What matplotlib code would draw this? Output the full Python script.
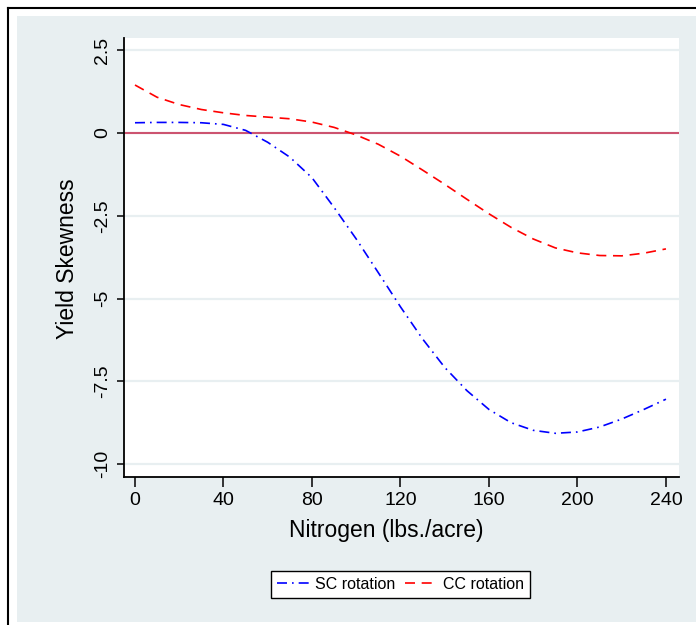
import matplotlib
matplotlib.use("Agg")
import matplotlib.pyplot as plt
from matplotlib.patches import Rectangle
from matplotlib.lines import Line2D

plt.rcParams['font.family'] = ['Liberation Sans', 'DejaVu Sans']

# === DATA ===
nitrogen = [0, 10, 20, 30, 40, 50, 60, 70, 80, 90, 100, 110, 120,
            130, 140, 150, 160, 170, 180, 190, 200, 210, 220, 230, 240]
sc_skew = [0.31, 0.32, 0.32, 0.31, 0.26, 0.08, -0.28, -0.73, -1.35, -2.25, -3.2, -4.22, -5.25,
           -6.22, -7.08, -7.78, -8.35, -8.75, -8.98, -9.07, -9.03, -8.88, -8.64, -8.35, -8.04]
cc_skew = [1.45, 1.08, 0.86, 0.71, 0.61, 0.53, 0.48, 0.43, 0.33, 0.17, -0.06, -0.34, -0.7,
           -1.12, -1.55, -2.0, -2.44, -2.85, -3.2, -3.47, -3.62, -3.7, -3.71, -3.63, -3.5]
x_ticks = [0, 40, 80, 120, 160, 200, 240]
y_ticks = [2.5, 0, -2.5, -5, -7.5, -10]
y_tick_labels = ['2.5', '0', '-2.5', '-5', '-7.5', '-10']

W, H = 696, 625
BG = '#e8eff1'

fig = plt.figure(figsize=(W / 100, H / 100), dpi=100, facecolor='white')

# outer frame + graph region background (Stata style)
fig.patches.append(Rectangle((17 / W, 1 - 622 / H), 1 - 17 / W, (622 - 16) / H,
                             transform=fig.transFigure, facecolor=BG, edgecolor='none', zorder=-2))
fig.lines.append(Line2D([8 / W, 8 / W], [0, 1 - 8 / H], transform=fig.transFigure,
                        color='black', lw=1.5, zorder=-1))
fig.lines.append(Line2D([8 / W, 1], [1 - 8 / H, 1 - 8 / H], transform=fig.transFigure,
                        color='black', lw=1.5, zorder=-1))

ax = fig.add_axes([124 / W, 1 - 477 / H, (679 - 124) / W, (477 - 38) / H])
ax.set_facecolor('white')

for yt in y_ticks:
    ax.axhline(yt, color=BG, lw=1.6, zorder=0)
ax.axhline(0, color='#cc5470', lw=1.5, zorder=1)

ax.plot(nitrogen, sc_skew, color='blue', lw=1.2, linestyle=(0, (6, 3, 1, 3)),
        label='SC rotation', zorder=3)
ax.plot(nitrogen, cc_skew, color='red', lw=1.2, linestyle=(0, (6, 4)),
        label='CC rotation', zorder=3)

ax.set_xlim(-4.97, 245.9)
ax.set_ylim(-10.39, 2.87)
ax.set_xticks(x_ticks)
ax.set_yticks(y_ticks)
ax.set_yticklabels(y_tick_labels, rotation=90, va='center')

ax.spines['top'].set_visible(False)
ax.spines['right'].set_visible(False)
ax.spines['left'].set_linewidth(1.3)
ax.spines['bottom'].set_linewidth(1.3)
ax.tick_params(axis='x', direction='out', length=7, width=1.1, labelsize=14, pad=4)
ax.tick_params(axis='y', direction='out', length=5, width=1.1, labelsize=14, pad=4)

ax.set_xlabel('Nitrogen (lbs./acre)', fontsize=16.5, va='center')
ax.set_ylabel('Yield Skewness', fontsize=16.5, va='center')
ax.xaxis.set_label_coords((386 - 124) / 555, (477 - 531) / 439)
ax.yaxis.set_label_coords((67 - 124) / 555, 0.497)

leg = fig.legend(loc='center', bbox_to_anchor=(400.5 / W, 1 - 584.5 / H), ncol=2,
                 fontsize=11.5, frameon=True, fancybox=False, edgecolor='black',
                 framealpha=1, handlelength=2.0, columnspacing=0.6, borderpad=0.35,
                 handletextpad=0.4, borderaxespad=0.2)
leg.get_frame().set_linewidth(1.0)

fig.savefig('out.png', dpi=100, facecolor=fig.get_facecolor())
